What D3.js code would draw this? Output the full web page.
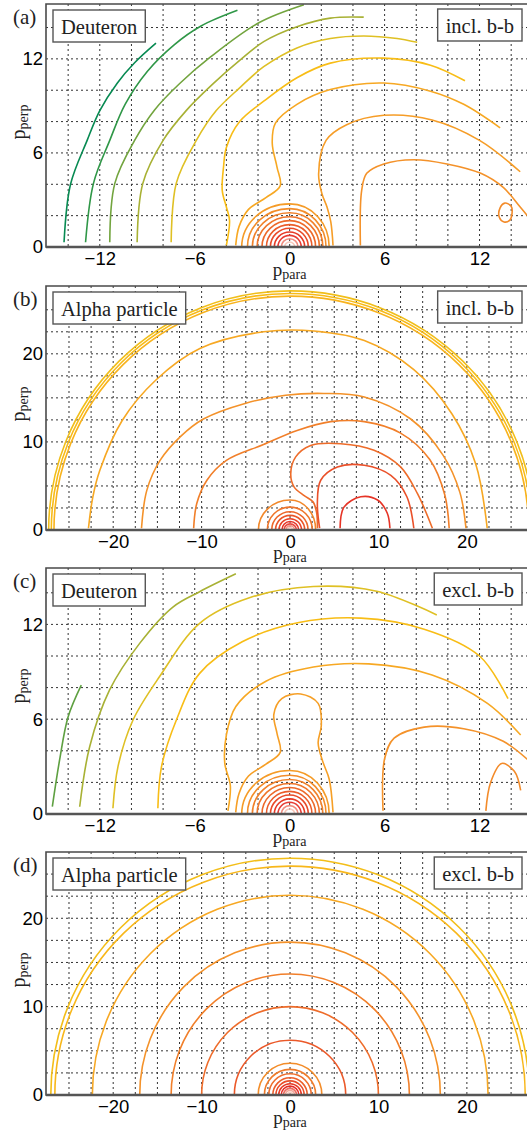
<!DOCTYPE html>
<meta charset="utf-8" />
<style>
  body { margin: 0; background: #fff; }
  .tick text { font: 18.5px "Liberation Sans", Arial, sans-serif; fill: #000; }
  .serif { font-family: "Liberation Serif", "Times New Roman", serif; fill: #222; }
  .grid line { stroke: #333; stroke-width: 1; stroke-dasharray: 2 3; }
  .contour { fill: none; stroke-width: 1.6; }
</style>
<svg width="528" height="1136"></svg>
<script src="https://d3js.org/d3.v7.min.js"></script>
<script>
  // colour of a contour level, low density (green) -> peak (pale pink)
  var levelStops = [0, 1, 2, 3, 4, 5, 6, 7, 8, 9, 10, 11, 12, 13, 14];
  var levelColors = ["#078a52", "#2f9747", "#72a43e", "#a8b134", "#dfc024", "#f8bd16", "#f7a823",
    "#f4922a", "#f07a2a", "#ec622a", "#e84428", "#e52a24", "#ee7e70", "#f7c2b4", "#fde6de"];

  var xTicksDeut = [-12, -6, 0, 6, 12], yTicksDeut = [0, 6, 12];
  var xTicksAlpha = [-20, -10, 0, 10, 20], yTicksAlpha = [0, 10, 20];
  var gridDeutX = [-14, -12, -10, -8, -6, -4, -2, 0, 2, 4, 6, 8, 10, 12, 14];
  var gridDeutY = [2, 4, 6, 8, 10, 12, 14];
  var gridAlphaX = [-25, -22.5, -20, -17.5, -15, -12.5, -10, -7.5, -5, -2.5, 0, 2.5, 5, 7.5, 10, 12.5, 15, 17.5, 20, 22.5, 25];
  var gridAlphaY = [2.5, 5, 7.5, 10, 12.5, 15, 17.5, 20, 22.5, 25];

  // (a) deuteron incl. b-b : open contour lines [p_para, p_perp]
  var aLines = [
    { lev: 0, pts: [[-14.26, 0.3], [-13.85, 4.0], [-12.8, 6.8], [-12.0, 8.7], [-10.9, 10.45], [-9.8, 11.75], [-8.45, 13.0]] },
    { lev: 1, pts: [[-12.9, 0.3], [-12.4, 4.06], [-11.37, 6.8], [-10.4, 9.1], [-9.0, 11.2], [-7.3, 12.9], [-5.6, 14.1], [-3.3, 15.1]] },
    { lev: 2, pts: [[-11.37, 0.3], [-11.05, 4.06], [-9.8, 6.8], [-8.55, 8.73], [-6.95, 10.43], [-5.0, 12.12], [-1.95, 14.3], [0.9, 15.45]] },
    { lev: 3, pts: [[-9.64, 0.3], [-9.28, 4.06], [-8.0, 6.8], [-6.54, 8.7], [-4.85, 10.4], [-3.16, 11.9], [-1.64, 13.1], [0.46, 14.05], [2.57, 14.6], [4.68, 14.66]] },
    { lev: 4, pts: [[-7.49, 0.3], [-7.17, 4.06], [-5.9, 6.8], [-4.64, 8.7], [-3.16, 10.15], [-1.64, 11.5], [0.46, 12.7], [2.57, 13.3], [4.68, 13.46], [6.79, 13.3], [8.06, 13.06]] },
    { lev: 5, pts: [[-4.0, 0.1], [-3.8, 1.7], [-4.0, 2.55], [-4.26, 3.6], [-4.18, 5.1], [-4.0, 6.35], [-3.16, 8.0], [-1.64, 9.3], [0.46, 10.8], [2.57, 11.73], [5.95, 12.05], [8.9, 11.6], [11.08, 10.6]] },
    { lev: 6, pts: [[13.3, 7.6], [11.0, 9.1], [8.9, 9.94], [5.95, 10.46], [2.57, 10.04], [0.46, 9.1], [-0.9, 7.9], [-1.1, 6.6], [-0.8, 5.1], [-0.6, 3.9], [-1.5, 3.15], [-2.6, 2.4], [-3.2, 1.3], [-3.41, 0.1]] },
    { lev: 6.5, pts: [[14.57, 4.8], [12.0, 6.8], [9.0, 8.1], [5.95, 8.4], [3.6, 7.8], [2.3, 6.8], [1.83, 4.66], [2.04, 3.4], [2.36, 2.55], [2.6, 1.6], [2.74, 0.1]] },
    { lev: 7, pts: [[4.47, 0.1], [4.55, 3.6], [4.87, 4.7], [5.95, 5.3], [7.84, 5.57], [9.94, 5.3], [12.08, 4.7], [13.5, 3.8], [14.57, 2.55], [15.1, 1.9]] }
  ];
  var aLoops = [
    { lev: 7.3, pts: [[13.3, 2.5], [13.6, 2.8], [14.0, 2.6], [14.05, 2.1], [13.9, 1.7], [13.55, 1.6], [13.25, 1.9]] }
  ];
  // half rings round the origin: left, top and right reach
  var aRingL = [3.03, 2.67, 2.36, 2.06, 1.75, 1.47, 1.22, 0.97, 0.74, 0.53, 0.32];
  var aRingT = [2.75, 2.45, 2.18, 1.93, 1.68, 1.43, 1.2, 0.96, 0.74, 0.53, 0.32];
  var aRingR = [2.5, 2.3, 2.1, 1.88, 1.64, 1.41, 1.18, 0.95, 0.73, 0.53, 0.32];
  var aRingLev = [6.6, 7.2, 7.7, 8.2, 8.7, 9.2, 9.8, 10.4, 11.2, 12.2, 13.2];

  // (b) alpha particle incl. b-b
  var bLines = [
    { lev: 6, pts: [[-22.8, 0.2], [-22.3, 3.77], [-21.5, 6.8], [-19.0, 12.4], [-15.2, 17.0], [-10.2, 20.6], [-3.0, 22.5], [2.7, 22.6], [8.4, 21.5], [14.0, 18.2], [18.3, 13.2], [21.0, 7.5], [22.3, 0.2]] },
    { lev: 7, pts: [[-16.8, 0.2], [-16.2, 4.5], [-14.7, 7.9], [-12.4, 10.6], [-9.8, 12.6], [-5.0, 14.4], [-0.5, 15.3], [3.8, 15.5], [8.4, 15.1], [13.65, 12.6], [17.3, 8.5], [19.2, 4.3], [19.9, 0.2]] },
    { lev: 7.8, pts: [[-10.9, 0.2], [-10.55, 3.0], [-9.4, 5.65], [-7.2, 7.9], [-3.0, 9.7], [0.8, 11.3], [4.6, 12.3], [8.4, 12.3], [12.5, 11.0], [15.8, 8.0], [17.5, 4.0], [18.0, 0.2]] },
    { lev: 8.6, pts: [[3.1, 0.2], [3.0, 2.0], [2.6, 3.2], [1.6, 3.9], [0.45, 4.9], [0.08, 6.4], [0.64, 8.3], [2.34, 9.6], [5.73, 9.8], [9.5, 9.05], [12.5, 7.16], [14.4, 4.15], [16.1, 0.2]] },
    { lev: 9.6, pts: [[3.35, 0.2], [3.09, 3.0], [3.47, 5.65], [5.35, 7.16], [8.4, 7.35], [11.4, 6.2], [13.2, 3.8], [14.0, 0.2]] },
    { lev: 10.6, pts: [[5.66, 0.2], [6.1, 2.6], [8.0, 3.77], [9.9, 3.4], [11.0, 1.9], [11.3, 0.2]] }
  ];
  var bRingL = [27.3, 27.0, 26.7, 3.58, 2.57, 2.07, 1.64, 1.25, 0.92, 0.68, 0.46, 0.27];
  var bRingT = [27.15, 26.85, 26.55, 3.4, 2.6, 2.08, 1.66, 1.28, 0.96, 0.7, 0.48, 0.28];
  var bRingR = [27.6, 27.3, 27.0, 2.9, 2.52, 2.04, 1.66, 1.3, 0.98, 0.72, 0.5, 0.28];
  var bRingLev = [4.7, 5.1, 5.5, 7.4, 8.2, 8.8, 9.4, 10, 10.6, 11.4, 12.3, 13.2];

  // (c) deuteron excl. b-b
  var cLines = [
    { lev: 1.7, pts: [[-15.0, 0.46], [-14.54, 3.42], [-14.0, 6.16], [-13.17, 8.16]] },
    { lev: 3, pts: [[-13.27, 0.46], [-12.64, 4.26], [-11.38, 7.85], [-9.48, 10.8], [-7.38, 13.1], [-5.69, 14.07], [-3.4, 15.2]] },
    { lev: 4, pts: [[-11.17, 0.36], [-10.85, 3.0], [-9.9, 5.95], [-8.22, 8.7], [-5.69, 12.07], [-2.5, 13.7], [1.5, 14.4], [5.5, 14.1], [9.3, 12.6]] },
    { lev: 5, pts: [[-8.33, 0.36], [-8.1, 3.0], [-7.16, 5.95], [-5.69, 8.9], [-3.0, 10.9], [0.5, 12.1], [4.5, 12.4], [8.5, 11.7], [12.0, 10.0], [13.8, 7.3]] },
    { lev: 6, pts: [[-3.9, 0.2], [-3.75, 1.8], [-4.1, 3.2], [-4.0, 5.0], [-3.4, 6.8], [-1.5, 8.4], [1.5, 9.3], [5.0, 9.5], [9.0, 8.8], [12.5, 7.0], [14.6, 5.0]] },
    { lev: 6.4, pts: [[-3.41, 0.1], [-3.2, 1.3], [-2.6, 2.4], [-1.5, 3.15], [-0.6, 3.9], [-0.8, 5.1], [-1.0, 6.3], [-0.5, 7.3], [0.7, 7.6], [1.8, 7.0], [2.0, 5.6], [1.8, 4.5], [2.1, 3.3], [2.5, 2.2], [2.74, 0.1]] },
    { lev: 7, pts: [[5.9, 0.2], [6.0, 3.5], [6.6, 4.8], [8.5, 5.5], [11.0, 5.4], [13.5, 4.6], [15.2, 3.3]] },
    { lev: 7.3, pts: [[12.4, 0.2], [12.7, 2.0], [13.4, 3.2], [14.2, 2.7], [14.6, 1.5]] }
  ];
  var cRingL = [3.03, 2.67, 2.36, 2.06, 1.75, 1.47, 1.22, 0.97, 0.74, 0.53, 0.32];
  var cRingT = [2.75, 2.45, 2.18, 1.93, 1.68, 1.43, 1.2, 0.96, 0.74, 0.53, 0.32];
  var cRingR = [2.5, 2.3, 2.1, 1.88, 1.64, 1.41, 1.18, 0.95, 0.73, 0.53, 0.32];
  var cRingLev = [6.6, 7.2, 7.7, 8.2, 8.7, 9.2, 9.8, 10.4, 11.2, 12.2, 13.2];

  // (d) alpha particle excl. b-b
  var dRingL = [27.06, 26.6, 22.36, 17.0, 13.45, 10.0, 6.3, 3.6, 2.9, 2.4, 1.95, 1.6, 1.28, 1.0, 0.75, 0.52, 0.3];
  var dRingT = [26.8, 25.9, 22.6, 17.3, 13.7, 10.0, 6.2, 3.6, 2.9, 2.4, 1.95, 1.6, 1.28, 1.0, 0.75, 0.52, 0.3];
  var dRingR = [27.06, 26.6, 22.4, 17.0, 13.5, 10.0, 6.3, 3.6, 2.9, 2.4, 1.95, 1.6, 1.28, 1.0, 0.75, 0.52, 0.3];
  var dRingLev = [4.8, 5.3, 6, 7, 7.8, 8.6, 9.3, 7.2, 7.9, 8.5, 9.1, 9.7, 10.3, 11, 11.8, 12.6, 13.4];

  var panels = [
    { tag: "(a)", name: "Deuteron", mode: "incl. b-b", top: 4, bottom: 247, x: [-15.4, 15], y: [0, 15.5],
      xt: xTicksDeut, yt: yTicksDeut, gx: gridDeutX, gy: gridDeutY, lines: aLines, loops: aLoops,
      rings: [aRingL, aRingT, aRingR, aRingLev] },
    { tag: "(b)", name: "Alpha particle", mode: "incl. b-b", top: 286, bottom: 530, x: [-27.6, 26.8], y: [0, 27.7],
      xt: xTicksAlpha, yt: yTicksAlpha, gx: gridAlphaX, gy: gridAlphaY, lines: bLines, loops: [],
      rings: [bRingL, bRingT, bRingR, bRingLev] },
    { tag: "(c)", name: "Deuteron", mode: "excl. b-b", top: 568, bottom: 814, x: [-15.4, 15], y: [0, 15.57],
      xt: xTicksDeut, yt: yTicksDeut, gx: gridDeutX, gy: gridDeutY, lines: cLines, loops: [],
      rings: [cRingL, cRingT, cRingR, cRingLev] },
    { tag: "(d)", name: "Alpha particle", mode: "excl. b-b", top: 852, bottom: 1095, x: [-27.6, 26.8], y: [0, 27.5],
      xt: xTicksAlpha, yt: yTicksAlpha, gx: gridAlphaX, gy: gridAlphaY, lines: [], loops: [],
      rings: [dRingL, dRingT, dRingR, dRingLev] }
  ];

  var svg = d3.select("svg"),
    left = 46,
    right = 527;

  var color = d3.scaleLinear().domain(levelStops).range(levelColors);

  panels.forEach(function(p, k) {
    var x = d3.scaleLinear().domain(p.x).range([left, right]),
      y = d3.scaleLinear().domain(p.y).range([p.bottom, p.top]);

    var g = svg.append("g");

    // dotted grid
    var grid = g.append("g").attr("class", "grid");
    grid.selectAll(".gv").data(p.gx).enter().append("line")
      .attr("x1", d => x(d)).attr("x2", d => x(d))
      .attr("y1", p.top).attr("y2", p.bottom);
    grid.selectAll(".gh").data(p.gy).enter().append("line")
      .attr("x1", left).attr("x2", right)
      .attr("y1", d => y(d)).attr("y2", d => y(d));

    g.append("clipPath").attr("id", "clip" + k)
      .append("rect").attr("x", left).attr("y", p.top)
      .attr("width", right - left).attr("height", p.bottom - p.top);

    var plot = g.append("g").attr("clip-path", "url(#clip" + k + ")");

    // half rings
    var rl = p.rings[0], rt = p.rings[1], rr = p.rings[2], rv = p.rings[3];
    plot.selectAll(".ring").data(rl).enter().append("path")
      .attr("class", "contour")
      .attr("stroke", (d, i) => color(rv[i]))
      .attr("d", function(d, i) {
        var x0 = x(0), y0 = y(0), yt = y(rt[i]);
        var rxL = x0 - x(-rl[i]), rxR = x(rr[i]) - x0, ry = y0 - yt;
        return "M" + x(-rl[i]) + "," + y0 +
          "A" + rxL + "," + ry + " 0 0 1 " + x0 + "," + yt +
          "A" + rxR + "," + ry + " 0 0 1 " + x(rr[i]) + "," + y0;
      });

    var line = d3.line().x(d => x(d[0])).y(d => y(d[1])).curve(d3.curveCatmullRom.alpha(0.5));
    var loop = d3.line().x(d => x(d[0])).y(d => y(d[1])).curve(d3.curveCatmullRomClosed.alpha(0.5));

    plot.selectAll(".cl").data(p.lines).enter().append("path")
      .attr("class", "contour")
      .attr("stroke", d => color(d.lev))
      .attr("d", d => line(d.pts));
    plot.selectAll(".lp").data(p.loops).enter().append("path")
      .attr("class", "contour")
      .attr("stroke", d => color(d.lev))
      .attr("d", d => loop(d.pts));

    // frame
    g.append("path")
      .attr("d", "M" + right + "," + p.top + "H" + left + "V" + p.bottom + "H" + right)
      .attr("fill", "none").attr("stroke", "#4a4a4a").attr("stroke-width", 1.6);
    g.append("line").attr("x1", left).attr("x2", right)
      .attr("y1", p.bottom).attr("y2", p.bottom)
      .attr("stroke", "#555").attr("stroke-width", 2.4);

    // axes
    g.append("g").attr("transform", "translate(0," + p.bottom + ")")
      .call(d3.axisBottom(x).tickValues(p.xt).tickSize(0).tickPadding(5).tickFormat(d3.format("d")))
      .call(a => a.select(".domain").remove())
      .call(a => a.selectAll("text").attr("font-family", null).attr("font-size", null));
    g.append("g").attr("transform", "translate(" + left + ",0)")
      .call(d3.axisLeft(y).tickValues(p.yt).tickSize(0).tickPadding(3).tickFormat(d3.format("d")))
      .call(a => a.select(".domain").remove())
      .call(a => a.selectAll("text").attr("font-family", null).attr("font-size", null));

    // axis titles
    var xl = g.append("text").attr("class", "serif")
      .attr("x", x(0)).attr("y", p.bottom + 29)
      .attr("text-anchor", "middle").attr("font-size", 19);
    xl.append("tspan").text("p");
    xl.append("tspan").attr("font-size", 14).attr("dy", 3).text("para");

    var yl = g.append("text").attr("class", "serif")
      .attr("transform", "translate(25," + (p.top + 118) + ") rotate(-90)")
      .attr("text-anchor", "middle").attr("font-size", 20);
    yl.append("tspan").text("p");
    yl.append("tspan").attr("font-size", 14).attr("dy", 3).text("perp");

    // panel tag
    g.append("text").attr("class", "serif")
      .attr("x", 13).attr("y", p.top + 20).attr("font-size", 21).text(p.tag);

    // boxed labels
    function box(txt, bx, by, anchorRight) {
      var t = g.append("text").attr("class", "serif").attr("font-size", 20.5)
        .attr("y", by + 24).text(txt);
      var w = t.node().getComputedTextLength() + 16;
      var x0 = anchorRight ? bx - w : bx;
      t.attr("x", x0 + 8);
      g.insert("rect", function() { return t.node(); })
        .attr("x", x0).attr("y", by).attr("width", w).attr("height", 32)
        .attr("fill", "#fff").attr("stroke", "#555").attr("stroke-width", 1.4);
    }
    box(p.name, left + 7, p.top + 6, false);
    box(p.mode, 522, p.top + 5, true);
  });
</script>
